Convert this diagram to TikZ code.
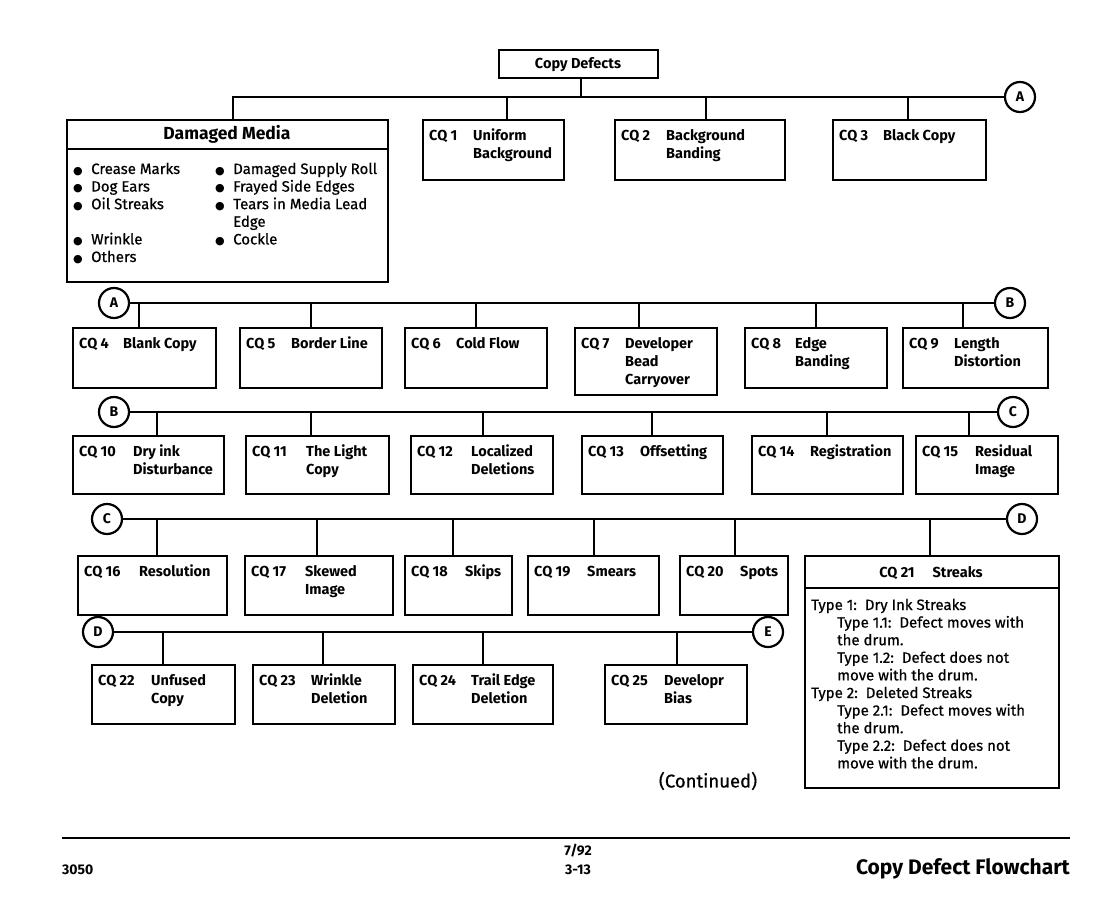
\documentclass[tikz,border=0pt]{standalone}
\usepackage{fontspec}
\usepackage{graphicx}
\setmainfont{Fira Sans}
\newfontfamily\medfont{Fira Sans}[FakeBold=0.6]
\newfontfamily\dejavu{DejaVu Sans}
\usetikzlibrary{calc}

\newcommand{\tl}[1]{\begin{tabular}[t]{@{}l@{}}#1\end{tabular}}
\newcommand{\bul}{\makebox[18pt][l]{\dejavu\fontsize{11}{11}\selectfont ●}}

\tikzset{
 conn/.style={line width=2.2pt, draw=black},
 cqbox/.style={draw, line width=2.2pt, rectangle, anchor=north west, inner sep=0pt, outer sep=0pt},
 lbl/.style={anchor=base west, inner sep=0pt, font=\bfseries\fontsize{14.5}{18}\selectfont},
 cc/.style={circle, draw, line width=2.2pt, minimum size=30pt, inner sep=0pt, fill=white, font=\bfseries\fontsize{14}{14}\selectfont},
 body/.style={anchor=base west, inner sep=0pt, font=\medfont\fontsize{15}{17.6}\selectfont},
 foot/.style={inner sep=0pt, font=\bfseries\fontsize{14}{16}\selectfont},
}

% name, x1, y1, x2, y2, CQ label, title, title offset
\newcommand{\cqbox}[8]{%
 \node[cqbox, minimum width={#4-#2}, minimum height={#5-#3}] (#1) at (#2,#3) {};
 \node[lbl] (#1-a) at ($(#1.north west)+(6,20)$) {#6};
 \node[lbl] (#1-b) at ($(#1.north west)+(#8,20)$) {\tl{#7}};
}
% box name, x, bus y
\newcommand{\drop}[3]{%
 \coordinate (j-#1) at (#2,#3);
 \draw[conn] (j-#1) -- (j-#1 |- #1.north);
}

\begin{document}
\begin{tikzpicture}[x=1pt,y=-1pt]
\useasboundingbox (0,0) rectangle (1119,918);

% ---- top
\node[cqbox, minimum width=159, minimum height=28] (cd) at (499,50) {};
\node[lbl, anchor=base] (cdt) at (578,68) {Copy Defects};

\node[cqbox, minimum width={388-67}, minimum height={282-120}] (dm) at (67,120) {};
\node[inner sep=0pt, anchor=base, font=\bfseries\fontsize{17.5}{20}\selectfont] (dmh) at (227,139) {Damaged Media};
\coordinate (dmd) at (67,149);
\draw[conn] (dmd) -- (dmd -| dm.east);
\node[body] (dml) at (73,174) {\begin{tabular}[t]{@{}l@{}l@{}}
\bul & Crease Marks\\ \bul & Dog Ears\\ \bul & Oil Streaks\\ & \\ \bul & Wrinkle\\ \bul & Others\end{tabular}};
\node[body] (dmr) at (215,174) {\begin{tabular}[t]{@{}l@{}l@{}}
\bul & Damaged Supply Roll\\ \bul & Frayed Side Edges\\ \bul & Tears in Media Lead\\ & Edge\\ \bul & Cockle\end{tabular}};

\cqbox{cq1}{423}{120}{564}{180}{CQ 1}{Uniform\\Background}{50}
\cqbox{cq2}{615}{120}{785}{180}{CQ 2}{Background\\Banding}{51}
\cqbox{cq3}{833}{120}{986}{180}{CQ 3}{Black Copy}{50}

\node[cc] (A1) at (1020,97) {A};
\coordinate (tl) at (233,97);
\draw[conn] (dm.north -| tl) -- (tl) -- (A1);
\coordinate (jcd) at (581,97);
\draw[conn] (jcd) -- (jcd |- cd.south);
\drop{cq1}{507}{97}
\drop{cq2}{706}{97}
\drop{cq3}{908}{97}

% ---- row 2
\node[cc] (A2) at (114,303) {A};
\node[cc] (B1) at (1010,303) {B};
\draw[conn] (A2) -- (B1);
\cqbox{cq4}{73}{328}{216}{388}{CQ 4}{Blank Copy}{50}
\cqbox{cq5}{240}{328}{382}{388}{CQ 5}{Border Line}{51}
\cqbox{cq6}{405}{328}{547}{388}{CQ 6}{Cold Flow}{51}
\cqbox{cq7}{575}{328}{717}{395}{CQ 7}{Developer\\Bead\\Carryover}{50}
\cqbox{cq8}{745}{328}{887}{388}{CQ 8}{Edge\\Banding}{50}
\cqbox{cq9}{903}{328}{1048}{388}{CQ 9}{Length\\Distortion}{51}
\drop{cq4}{139}{303}
\drop{cq5}{311}{303}
\drop{cq6}{476}{303}
\drop{cq7}{639}{303}
\drop{cq8}{816}{303}
\drop{cq9}{963}{303}

% ---- row 3
\node[cc] (B2) at (114,412) {B};
\node[cc] (C1) at (1013,412) {C};
\draw[conn] (B2) -- (C1);
\cqbox{cq10}{73}{436}{224}{494}{CQ 10}{Dry ink\\Disturbance}{60}
\cqbox{cq11}{246}{436}{389}{494}{CQ 11}{The Light\\Copy}{60}
\cqbox{cq12}{411}{436}{553}{494}{CQ 12}{Localized\\Deletions}{60}
\cqbox{cq13}{582}{436}{723}{494}{CQ 13}{Offsetting}{58}
\cqbox{cq14}{752}{436}{903}{494}{CQ 14}{Registration}{58}
\cqbox{cq15}{916}{436}{1058}{494}{CQ 15}{Residual\\Image}{59}
\drop{cq10}{157}{412}
\drop{cq11}{311}{412}
\drop{cq12}{483}{412}
\drop{cq13}{652}{412}
\drop{cq14}{827}{412}
\drop{cq15}{969}{412}

% ---- row 4
\node[cc] (C2) at (107,519) {C};
\node[cc] (D1) at (1022,519) {D};
\draw[conn] (C2) -- (D1);
\cqbox{cq16}{78}{556}{227}{615}{CQ 16}{Resolution}{61}
\cqbox{cq17}{245}{556}{393}{615}{CQ 17}{Skewed\\Image}{60}
\cqbox{cq18}{405}{556}{512}{615}{CQ 18}{Skips}{60}
\cqbox{cq19}{528}{556}{659}{615}{CQ 19}{Smears}{59}
\cqbox{cq20}{680}{556}{788}{615}{CQ 20}{Spots}{60}
\node[cqbox, minimum width={1059-805}, minimum height={788-556}] (cq21) at (805,556) {};
\coordinate (c21d) at (805,588);
\draw[conn] (c21d) -- (c21d -| cq21.east);
\node[lbl, anchor=base] (cq21h) at (931,577) {CQ 21\hspace{18pt}Streaks};
\node[body] (cq21b) at (811,610) {\tl{Type 1:\ \ Dry Ink Streaks\\
\hspace{26pt}Type 1.1:\ \ Defect moves with\\
\hspace{26pt}the drum.\\
\hspace{26pt}Type 1.2:\ \ Defect does not\\
\hspace{26pt}move with the drum.\\
Type 2:\ \ Deleted Streaks\\
\hspace{26pt}Type 2.1:\ \ Defect moves with\\
\hspace{26pt}the drum.\\
\hspace{26pt}Type 2.2:\ \ Defect does not\\
\hspace{26pt}move with the drum.}};
\drop{cq16}{157}{519}
\drop{cq17}{317}{519}
\drop{cq18}{453}{519}
\drop{cq19}{594}{519}
\drop{cq20}{735}{519}
\drop{cq21}{930}{519}

% ---- row 5
\node[cc] (D2) at (98,632) {D};
\node[cc] (E) at (768,632) {E};
\draw[conn] (D2) -- (E);
\cqbox{cq22}{92}{665}{235}{724}{CQ 22}{Unfused\\Copy}{59}
\cqbox{cq23}{253}{665}{395}{724}{CQ 23}{Wrinkle\\Deletion}{58}
\cqbox{cq24}{413}{665}{553}{724}{CQ 24}{Trail Edge\\Deletion}{58}
\cqbox{cq25}{605}{665}{747}{724}{CQ 25}{Developr\\Bias}{59}
\drop{cq22}{163}{632}
\drop{cq23}{323}{632}
\drop{cq24}{483}{632}
\drop{cq25}{677}{632}

\node[inner sep=0pt, font=\medfont\fontsize{18.5}{21}\selectfont] (cont) at (708,781) {(Continued)};

% ---- footer
\coordinate (fl) at (62,838);
\coordinate (fr) at (1070,838);
\draw[line width=1.2pt] (fl) -- (fr);
\node[foot, anchor=base] (f1) at (578,855) {7/92};
\node[foot, anchor=base] (f2) at (578,874) {3-13};
\node[foot, anchor=base west] (f3) at (62,874) {3050};
\node[inner sep=0pt, anchor=base east, font=\bfseries\fontsize{21}{24}\selectfont] (f4) at (1070,874) {Copy Defect Flowchart};
\end{tikzpicture}
\end{document}
